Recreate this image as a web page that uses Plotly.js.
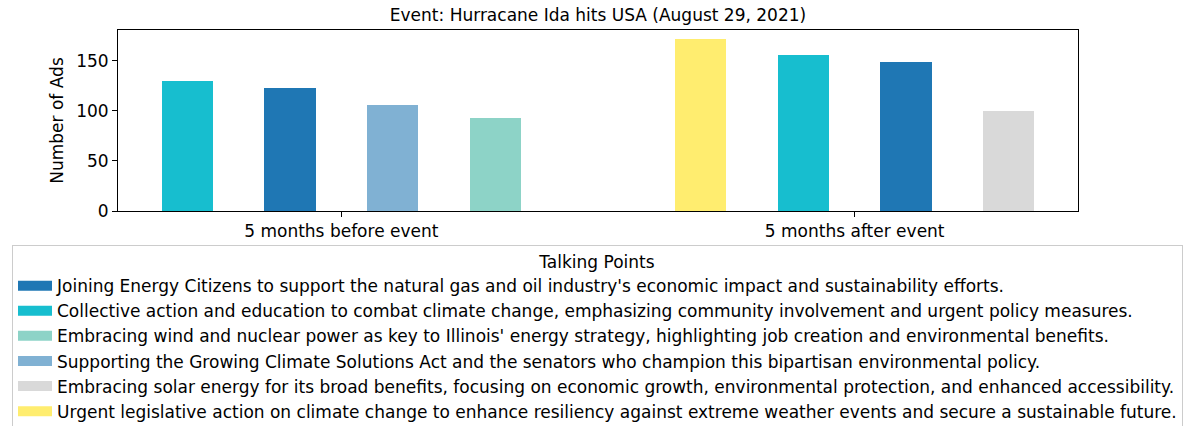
<!DOCTYPE html>
<html>
<head>
<meta charset="utf-8">
<script src="https://cdn.plot.ly/plotly-3.0.1.min.js"></script>
<style>html,body{margin:0;padding:0;background:#fff;}</style>
</head>
<body>
<div id="chart" style="width:1192px;height:426px;"></div>
<script>
const periods = ["5 months before event", "5 months after event"];
const talkingPoints = [
  "Joining Energy Citizens to support the natural gas and oil industry's economic impact and sustainability efforts.",
  "Collective action and education to combat climate change, emphasizing community involvement and urgent policy measures.",
  "Embracing wind and nuclear power as key to Illinois' energy strategy, highlighting job creation and environmental benefits.",
  "Supporting the Growing Climate Solutions Act and the senators who champion this bipartisan environmental policy.",
  "Embracing solar energy for its broad benefits, focusing on economic growth, environmental protection, and enhanced accessibility.",
  "Urgent legislative action on climate change to enhance resiliency against extreme weather events and secure a sustainable future."
];
const colors = ["#1f77b4", "#17becf", "#8dd3c7", "#80b1d3", "#d9d9d9", "#ffed6f"];
// talking point index (into talkingPoints) per bar, per period, in drawing order
const beforeOrder = [1, 0, 3, 2];
const beforeValues = [130, 123, 106, 93];
const afterOrder = [5, 1, 0, 4];
const afterValues = [172, 156, 149, 100];

const groups = [
  {order: beforeOrder, values: beforeValues},
  {order: afterOrder, values: afterValues}
];
const barW = 0.1, step = 0.2;
const traces = [];
talkingPoints.forEach((tp, i) => {
  const xs = [], ys = [];
  groups.forEach((g, p) => {
    const r = g.order.indexOf(i);
    if (r >= 0) {
      xs.push(p + (r - (g.order.length - 1) / 2) * step);
      ys.push(g.values[r]);
    }
  });
  traces.push({
    type: "bar", x: xs, y: ys, width: barW,
    marker: {color: colors[i], line: {width: 0}},
    legendgroup: "tp" + i, showlegend: false, hoverinfo: "y"
  });
});
talkingPoints.forEach((tp, i) => {
  traces.push({
    type: "scatter", mode: "lines", x: [null], y: [null],
    name: tp, legendgroup: "tp" + i, showlegend: true,
    line: {color: colors[i], width: 14}
  });
});

const allVals = beforeValues.concat(afterValues);
const yMax = Math.max(...allVals) * 1.05;
const xLo = -0.35 - 0.085, xHi = 1.35 + 0.085;

const FS = 17;
const font = {family: "DejaVu Sans, sans-serif", size: FS, color: "#000"};
const layout = {
  width: 1192, height: 426,
  margin: {l: 118, r: 114, t: 30, b: 215, autoexpand: false},
  paper_bgcolor: "#fff", plot_bgcolor: "#fff",
  font: font,
  title: {text: "Event: Hurracane Ida hits USA (August 29, 2021)", font: font,
          x: 0.5, xref: "paper", xanchor: "center", y: 1 - 15 / 426, yanchor: "middle"},
  barmode: "overlay",
  bargap: 0,
  xaxis: {range: [xLo, xHi], tickmode: "array", tickvals: [0, 1], ticktext: periods,
          showline: true, linecolor: "#000", linewidth: 1, mirror: true,
          ticks: "outside", ticklen: 5, tickcolor: "#000", showgrid: false, zeroline: false,
          tickfont: font},
  yaxis: {range: [0, yMax], tickmode: "array", tickvals: [0, 50, 100, 150],
          showline: true, linecolor: "#000", linewidth: 1, mirror: true,
          ticks: "outside", ticklen: 5, tickcolor: "#000", showgrid: false, zeroline: false,
          tickfont: font,
          title: {text: "Number of Ads", font: font, standoff: 8}},
  showlegend: true,
  legend: {
    orientation: "v", xref: "container", x: 597.5 / 1192, xanchor: "center",
    yref: "container", y: 1 - 245 / 426, yanchor: "top",
    bordercolor: "#cccccc", borderwidth: 1, bgcolor: "#fff",
    traceorder: "grouped", tracegroupgap: 0, itemwidth: 34,
    font: font,
    title: {text: "Talking Points", side: "top center", font: font}
  }
};
Plotly.newPlot("chart", traces, layout, {displayModeBar: false, staticPlot: true});
</script>
</body>
</html>
